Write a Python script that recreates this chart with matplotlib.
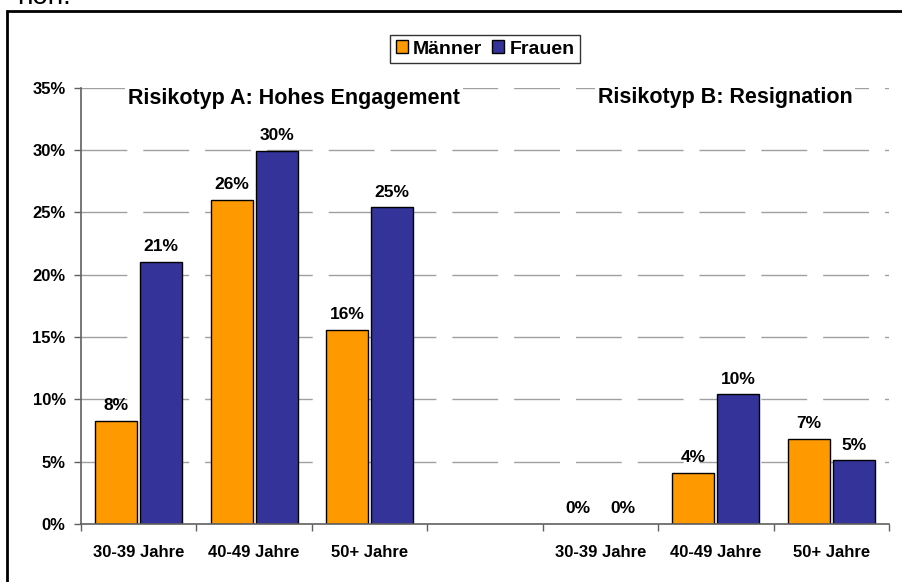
import matplotlib
matplotlib.use("Agg")
import matplotlib.pyplot as plt
import matplotlib.patches as mpatches
import numpy as np

plt.rcParams['font.family'] = ['Liberation Sans', 'DejaVu Sans']
plt.rcParams['font.weight'] = 'bold'
plt.rcParams['lines.scale_dashes'] = False

# data (percent)
categories = ["30-39 Jahre", "40-49 Jahre", "50+ Jahre", "",
              "30-39 Jahre", "40-49 Jahre", "50+ Jahre"]
maenner = [8.3, 26.0, 15.6, None, 0.0, 4.1, 6.8]
frauen = [21.0, 29.9, 25.4, None, 0.0, 10.4, 5.1]
group_titles = ["Risikotyp A: Hohes Engagement", "Risikotyp B: Resignation"]
series_names = ["Männer", "Frauen"]
y_ticks = [0, 5, 10, 15, 20, 25, 30, 35]

ORANGE = "#FF9900"
BLUE = "#333399"

W, H = 902, 582
fig = plt.figure(figsize=(W / 100, H / 100), dpi=100)
ax = fig.add_axes([81 / W, 1 - 524 / H, (889 - 81) / W, (524 - 87.7) / H])

x = np.arange(len(categories))
bar_w = 0.364
off = 0.195

for i, (m, f) in enumerate(zip(maenner, frauen)):
    if m is None:
        continue
    for val, dx, col in ((m, -off, ORANGE), (f, off, BLUE)):
        if val > 0:
            ax.bar(x[i] + dx, val, width=bar_w, color=col,
                   edgecolor="black", linewidth=1.0, zorder=3)
        ax.annotate(f"{round(val):d}%", (x[i] + dx, val),
                    xytext=(0, 11), textcoords="offset points",
                    ha="center", va="center", fontsize=12.5,
                    fontweight="bold", zorder=4)

ax.set_xlim(-0.5, len(categories) - 0.5)
ax.set_ylim(0, 35)

# y axis
ax.set_yticks(y_ticks)
ax.set_yticklabels([f"{t}%" for t in y_ticks])
ax.tick_params(axis="y", direction="out", length=5, width=1,
               color="#606060", pad=6, labelsize=12)

# x axis: ticks between categories, labels at centres
ax.set_xticks(np.arange(-0.5, len(categories), 1.0))
ax.set_xticklabels([])
ax.set_xticks(x, minor=True)
ax.set_xticklabels(categories, minor=True)
ax.tick_params(axis="x", which="major", direction="out", length=5,
               width=1, color="#606060")
ax.tick_params(axis="x", which="minor", length=0, pad=15, labelsize=12)

for s in ("top", "right"):
    ax.spines[s].set_visible(False)
for s in ("left", "bottom"):
    ax.spines[s].set_color("#606060")
    ax.spines[s].set_linewidth(1.2)
    ax.spines[s].set_zorder(5)

for t in y_ticks[1:]:
    ax.axhline(t, color="#a0a0a0", linewidth=1,
               linestyle=(0, (33, 11.5)), zorder=1)

# group titles with white background
ax.text((294 - 81) / 115.4 - 0.5, 34.1, group_titles[0],
        ha="center", va="center", fontsize=15.5, fontweight="bold",
        bbox=dict(facecolor="white", edgecolor="none", pad=2), zorder=4)
ax.text((725 - 81) / 115.4 - 0.5, 34.2, group_titles[1],
        ha="center", va="center", fontsize=15.5, fontweight="bold",
        bbox=dict(facecolor="white", edgecolor="none", pad=2), zorder=4)

# legend
handles = [mpatches.Patch(facecolor=ORANGE, edgecolor="black", linewidth=1),
           mpatches.Patch(facecolor=BLUE, edgecolor="black", linewidth=1)]
leg = fig.legend(handles, series_names, loc="center",
                 bbox_to_anchor=(485 / W, 1 - 49 / H), ncol=2,
                 prop=dict(size=14, weight="bold"), frameon=True,
                 fancybox=False, handlelength=0.62, handleheight=0.62,
                 handletextpad=0.25, columnspacing=0.55, borderpad=0.3,
                 borderaxespad=0)
leg.get_frame().set_edgecolor("black")
leg.get_frame().set_linewidth(1)

# outer chart frame (right and bottom edges lie outside the crop)
fig.patches.append(mpatches.Rectangle((7 / W, -0.1), 1.2, 1.1 - 11 / H,
                                      transform=fig.transFigure,
                                      fill=False, edgecolor="black",
                                      linewidth=2))

# cut-off text from the page above the chart
fig.text(17 / W, 1 - 4 / H, "non.", fontsize=20, fontweight="normal",
         va="baseline", ha="left")

fig.savefig("out.png", dpi=100)
